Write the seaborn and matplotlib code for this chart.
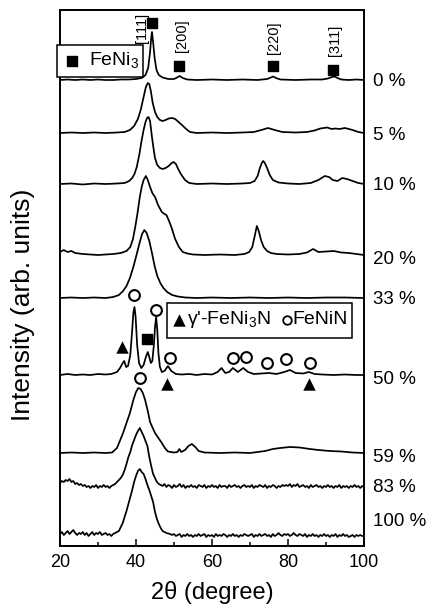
import numpy as np
import pandas as pd
import seaborn as sns
import matplotlib
matplotlib.use("Agg")
import matplotlib.pyplot as plt
from matplotlib.patches import Rectangle

# ---------------- data (2theta in degree, intensity in arb. units above each trace baseline) -------------
samples = ["0 %", "5 %", "10 %", "20 %", "33 %", "50 %", "59 %", "83 %", "100 %"]
offsets = [466, 413, 362, 291, 248, 171, 93, 59, 10]
label_y = [464, 411, 361, 286, 246, 167, 89, 58, 25]

x0 = [20, 22, 24, 26, 28, 30, 32, 34, 36, 38, 40, 41.5, 42.5, 43.2, 43.7, 44.0, 44.2, 44.5, 44.9, 45.4, 46.0, 47.0,
      48.5, 50.0, 50.8, 51.5, 52.3, 53.5, 56, 60, 64, 68, 72, 74.5, 75.5, 76.1, 76.8, 78, 82, 86, 89, 90.5, 91.6,
      92.3, 93.0, 94.0, 96, 98, 100]
h0 = [0, 0.5, 0, 0.5, 0, 0.5, 0, 0, 0.5, 0.5, 1, 2, 5, 12, 28, 42, 48, 38, 22, 10, 5, 2.5,
      1, 1, 2.5, 4, 2, 0.5, 0, 0.5, 0, 0.5, 0, 1, 2.5, 3.5, 2, 0.5, 0, 0.5, 0.5, 1.5, 3,
      3.5, 2, 0.5, 0, 0.5, 0]

x5 = [20, 23, 26, 29, 32, 35, 37, 38.4, 39.5, 40.5, 41.3, 42.0, 42.6, 43.1, 43.5, 43.9, 44.4, 45.0, 45.6, 46.3,
      47.0, 47.8, 48.6, 49.5, 50.3, 51.2, 52.1, 53.2, 54.2, 56, 60, 64, 68, 71, 73, 74.7, 76.5, 78.5, 82, 85, 87,
      88.5, 90.3, 91.5, 92.5, 93.5, 95, 97, 98.5, 100]
h5 = [0, 0.5, 0, 0.5, 0, 0.5, 1, 3, 7, 14, 24, 36, 46, 50, 49, 42, 30, 21, 16, 13,
      12, 13, 14.5, 15, 14, 11, 8, 4, 1, 0, 0.5, 0, 0.5, 1, 3, 5, 3, 1, 0.5, 1, 2.5,
      4.5, 5.5, 4, 4.5, 4, 5, 3, 1, 0]

x10 = [20, 23, 26, 29, 32, 35, 37, 38.2, 39.0, 39.6, 40.2, 40.9, 41.5, 42.0, 42.5, 42.9, 43.3, 43.7, 44.2, 44.6,
       45.0, 45.6, 46.3, 47.0, 47.8, 48.6, 49.4, 49.9, 50.5, 51.1, 51.8, 52.9, 54.0, 56, 60, 64, 68, 70, 71.2,
       72.0, 72.6, 73.1, 73.5, 73.9, 74.5, 75.2, 76.0, 77.5, 80, 83, 86, 88, 89.7, 90.8, 91.8, 93, 94.3, 95.5,
       97, 98.5, 100]
h10 = [0, 0.5, -0.5, 0.5, 0, 0.5, 1, 3, 6, 10, 17, 30, 44, 54, 62, 66, 67, 63, 47, 36,
       26, 19, 16, 15, 16, 18, 21, 22, 20, 15, 10, 4, 1, 0, 0.5, 0, 0.5, 1, 3,
       8, 16, 21, 23, 21, 16, 9, 4, 1.5, 0.5, 0, 1, 4, 8, 7, 4, 3, 6, 5,
       3, 1, 0]

x20 = [20, 21, 22, 23, 24, 26, 28, 30, 32, 34, 36, 37.5, 38.5, 39.2, 39.8, 40.4, 41.0, 41.5, 42.0, 42.6, 43.1,
       43.7, 44.3, 45.0, 45.8, 46.8, 47.5, 48.0, 48.6, 49.3, 50.3, 51.3, 52.3, 53.5, 55, 58, 62, 66, 68.5, 69.8,
       70.6, 71.3, 71.8, 72.3, 72.9, 73.6, 74.5, 75.5, 77, 80, 83, 85, 86.6, 88, 90, 92, 94, 96, 98, 100]
h20 = [3, 5, 3, 4, 2, 1, 0.5, 0, 0.5, 1, 2, 4, 8, 16, 28, 42, 58, 68, 75, 79, 75,
       68, 62, 58, 50, 43, 41, 40, 35, 28, 16, 8, 3, 1.5, 0.5, 0, 0.5, 0, 1, 3,
       8, 20, 29, 24, 15, 8, 4, 2, 1, 0.5, 1, 2.5, 6, 3, 3.5, 4, 2.5, 2, 1, 0]

x33 = [20, 23, 26, 29, 32, 34, 35.5, 36.6, 37.5, 38.4, 39.3, 40.2, 41.0, 41.6, 42.2, 42.8, 43.5, 44.2, 44.9, 45.6,
       46.4, 47.2, 48.2, 49.5, 51, 53, 56, 60, 65, 70, 75, 80, 85, 90, 95, 100]
h33 = [0, 0.5, 0, 0.5, 0, 1, 3, 7, 12, 20, 31, 44, 56, 64, 68, 65, 57, 45, 32, 22,
       15, 10, 6, 3, 1.5, 0.5, 0, 0.5, 0, 0.5, 0, 0.5, 0, 0.5, 0.5, 0]

x50 = [20, 22, 24, 26, 28, 30, 32, 33.5, 35, 35.8, 36.5, 36.9, 37.4, 37.9, 38.5, 39.0, 39.3, 39.6, 39.9, 40.3,
       40.8, 41.4, 42.0, 42.6, 43.1, 43.5, 43.9, 44.3, 44.7, 45.0, 45.3, 45.6, 45.9, 46.3, 46.8, 47.5, 48.4,
       49.3, 50.5, 52, 54, 56, 58, 60, 61.5, 62.5, 63.5, 64.5, 65.5, 66.8, 68.2, 69.5, 71, 73, 75, 77, 79,
       80.5, 82, 84, 85.5, 87, 89, 92, 95, 98, 100]
h50 = [0, 1, 0, 0.5, 0, 1, 0.5, 1, 3, 7, 12, 14, 8, 9, 20, 45, 62, 68, 58, 30,
       12, 7, 10, 18, 23, 18, 12, 14, 30, 48, 58, 45, 22, 8, 3, 4, 9,
       4, 1, 0.5, 1, 0, 1, 0.5, 3, 7, 2, 3, 7, 3, 7, 3, 1, 1.5, 2, 1, 3,
       5, 2, 1.5, 3, 1, 0.5, 0, 0.5, 0, 0]

x59 = [20, 23, 26, 29, 32, 33.7, 35, 36.6, 37.5, 38.4, 39.3, 40.0, 40.6, 41.2, 41.8, 42.4, 43.1, 43.7, 44.4, 45.0,
       45.9, 46.8, 47.6, 48.4, 50, 50.9, 51.4, 51.9, 52.9, 53.8, 54.7, 55.6, 56.5, 58, 62, 66, 70, 72, 74, 76,
       78, 80.5, 83, 85.8, 88, 91, 94, 97, 100]
h59 = [0, 0.5, 0, 0.5, 0, 0.5, 5, 20, 30, 40, 53, 61, 65, 64, 60, 53, 42, 31, 25, 20,
       15, 10, 5, 1.5, 0.5, 1, 4, 1, 3, 7, 9, 6, 2, 0.5, 0, 0.5, 0, 1, 2, 4,
       5, 6, 5.5, 4, 3, 2, 1.5, 0.5, 0]

x83 = [20, 20.5, 21, 21.5, 22, 22.5, 23, 23.5, 24, 24.5, 25, 25.5, 26, 26.5, 27, 27.5, 28, 28.5, 29, 29.5,
       30, 30.5, 31, 31.5, 32, 32.5, 33, 33.5, 34, 34.5, 35, 35.5, 36, 36.5, 37, 37.5, 38, 38.5, 39, 39.5,
       40, 40.5, 41, 41.5, 42, 42.5, 43, 43.5, 44, 44.5, 45, 45.5, 46, 46.5, 47, 47.5, 48, 48.5, 49, 49.5,
       50, 50.5, 51, 51.5, 52, 52.5, 53, 53.5, 54, 54.5, 55, 55.5, 56, 56.5, 57, 57.5, 58, 58.5, 59, 59.5,
       60, 60.5, 61, 61.5, 62, 62.5, 63, 63.5, 64, 64.5, 65, 65.5, 66, 66.5, 67, 67.5, 68, 68.5, 69, 69.5,
       70, 70.5, 71, 71.5, 72, 72.5, 73, 73.5, 74, 74.5, 75, 75.5, 76, 76.5, 77, 77.5, 78, 78.5, 79, 79.5,
       80, 80.5, 81, 81.5, 82, 82.5, 83, 83.5, 84, 84.5, 85, 85.5, 86, 86.5, 87, 87.5, 88, 88.5, 89, 89.5,
       90, 90.5, 91, 91.5, 92, 92.5, 93, 93.5, 94, 94.5, 95, 95.5, 96, 96.5, 97, 97.5, 98, 98.5, 99, 99.5, 100]
h83 = [4, 6, 5, 7, 6, 8, 5, 6, 3, 4, 2, 3, 1, 2, 0, 1, -1, 1, 0, 2,
       -1, 1, 0, 2, 0, 1, -1, 1, 2, 3, 5, 7, 9, 12, 17, 23, 30, 35, 42, 47,
       52, 56, 59, 55, 51, 46, 41, 30, 21, 13, 9, 5, 3, 2, 1, 3, 0, 2, 1, -1,
       2, 0, 1, 3, 0, 2, -1, 1, 0, 2, 0, 1, -1, 2, 1, 0, 2, -1, 1, 0,
       2, 0, 1, -1, 2, 0, 1, 1, -1, 2, 0, 1, 2, 0, 1, -1, 1, 2, 0, 1,
       0, 2, -1, 1, 0, 2, 1, 0, 2, -1, 1, 0, 2, 1, -1, 1, 0, 2, 1, 2,
       1, 3, 0, 2, 1, 3, 0, 1, 2, 0, 1, -1, 2, 0, 1, 2, 0, 1, -1, 1,
       0, 2, 0, 1, -1, 1, 0, 2, -1, 1, 0, 1, -1, 1, 0, 2, 0, 1, -1, 1, 0]

x100 = x83
h100 = [2, 4, 1, 3, 5, 2, 4, 6, 3, 1, 3, 2, 4, 1, 3, 0, 2, 4, 1, 3,
        2, 4, 1, 2, 3, 1, 2, 0, 2, 3, 4, 5, 9, 13, 19, 25, 32, 39, 46, 54,
        60, 65, 67, 64, 62, 57, 51, 46, 40, 34, 24, 17, 12, 8, 5, 4, 3, 2.5, 2, 1,
        2, 0, 1, 2, -1, 1, 0, 2, 0, 1, -1, 1, 0, 2, 0, 1, 2, -1, 1, 0,
        1, -1, 2, 0, 1, 0, 2, 1, -1, 1, 0, 2, 0, 1, -1, 1, 0, 2, 1, 0,
        1, 2, -1, 1, 0, 2, 0, 1, 2, 0, 1, -1, 2, 0, 1, 3, 1, 0, 2, 1,
        2, 0, 1, 3, 1, 0, 2, 1, 0, 2, -1, 1, 0, 2, 0, 1, -1, 1, 0, 2,
        0, 1, -1, 1, 0, 2, -1, 1, 0, 2, 0, 1, -1, 0, 1, -1, 1, 0, 1, 0, 0]

traces_x = [x0, x5, x10, x20, x33, x50, x59, x83, x100]
traces_h = [h0, h5, h10, h20, h33, h50, h59, h83, h100]

# phase markers
feni3_top_x = [44.2, 51.3, 76.0, 91.8]
feni3_top_y = [523, 480, 480, 476]
hkl_labels = ["[111]", "[200]", "[220]", "[311]"]
hkl_x = [41.6, 52.2, 76.4, 92.4]
hkl_y = [518, 510, 508, 506]

feni_n_x = [39.6, 45.3, 48.9, 65.5, 68.9, 74.5, 79.5, 85.8, 41.0]
feni_n_y = [251, 236, 188, 188, 189, 183, 187, 183, 168]
gamma_x = [36.3, 48.2, 85.5]
gamma_y = [199, 162, 162]
feni3_50_x = [42.9]
feni3_50_y = [207]

# ---------------- build long table ----------------
rows = []
for s, off, xs, hs in zip(samples, offsets, traces_x, traces_h):
    for xv, hv in zip(xs, hs):
        rows.append((s, xv, off + hv))
df = pd.DataFrame(rows, columns=["sample", "two_theta", "intensity"])

sns.set_style("ticks")
plt.rcParams["font.family"] = ["Liberation Sans", "DejaVu Sans"]
plt.rcParams["mathtext.fontset"] = "custom"
plt.rcParams["mathtext.rm"] = "Liberation Sans"
plt.rcParams["mathtext.it"] = "Liberation Sans:italic"
for k in ["text.color", "axes.labelcolor", "xtick.color", "ytick.color", "axes.edgecolor"]:
    plt.rcParams[k] = "black"

fig = plt.figure(figsize=(4.32, 6.06), dpi=100)
ax = fig.add_axes([60 / 432, 60 / 606, 304 / 432, 536 / 606])

sns.lineplot(data=df, x="two_theta", y="intensity", units="sample", estimator=None, sort=False,
             color="black", linewidth=1.25, ax=ax)

ax.set_xlim(20, 100)
ax.set_ylim(0, 536)
ax.set_yticks([])
ax.set_xticks([20, 40, 60, 80, 100])
ax.set_xticks([30, 50, 70, 90], minor=True)
ax.tick_params(axis="x", which="major", direction="in", length=5, width=1.1, labelsize=13, pad=6)
ax.tick_params(axis="x", which="minor", direction="in", length=3, width=1.1)
for sp in ax.spines.values():
    sp.set_linewidth(1.4)
    sp.set_visible(True)
ax.set_xlabel("2θ (degree)", fontsize=17, labelpad=7)
ax.set_ylabel("")
fig.text(23 / 432, 1 - 305 / 606, "Intensity (arb. units)", rotation=90, ha="center", va="center", fontsize=19)

# sample labels
tr = matplotlib.transforms.blended_transform_factory(ax.transAxes, ax.transData)
for s, ly in zip(samples, label_y):
    ax.text((373 - 60) / 304, ly, s, transform=tr, ha="left", va="center", fontsize=13.5, clip_on=False)

# FeNi3 markers at the top
ax.scatter(feni3_top_x, feni3_top_y, marker="s", s=50, color="black", zorder=5)
for lab, lx, ly in zip(hkl_labels, hkl_x, hkl_y):
    ax.text(lx, ly, lab, rotation=90, ha="center", va="center", fontsize=10.5)

# markers on 50 % trace
ax.scatter(feni_n_x, feni_n_y, marker="o", s=60, facecolor="white", edgecolor="black", linewidth=1.5, zorder=5)
ax.scatter(gamma_x, gamma_y, marker="^", s=80, color="black", zorder=5, linewidth=0)
ax.scatter(feni3_50_x, feni3_50_y, marker="s", s=60, color="black", zorder=5)

# legend boxes
ax.add_patch(Rectangle((19.2, 469), 22.6, 32, facecolor="white", edgecolor="black", linewidth=1.1,
                       clip_on=False, zorder=4))
ax.scatter([23.2], [485], marker="s", s=50, color="black", zorder=6, clip_on=False)
ax.text(27.6, 486, "FeNi$_3$", fontsize=14, ha="left", va="center", zorder=6)

ax.add_patch(Rectangle((48.2, 208), 48.6, 35, facecolor="white", edgecolor="black", linewidth=1.1, zorder=4))
ax.scatter([51.3], [226], marker="^", s=80, color="black", zorder=6, linewidth=0)
ax.text(53.4, 226, "γ'-FeNi$_3$N", fontsize=14, ha="left", va="center", zorder=6)
ax.scatter([79.8], [226], marker="o", s=38, facecolor="white", edgecolor="black", linewidth=1.3, zorder=6)
ax.text(81.2, 226, "FeNiN", fontsize=14, ha="left", va="center", zorder=6)

fig.savefig("out.png", dpi=100)
